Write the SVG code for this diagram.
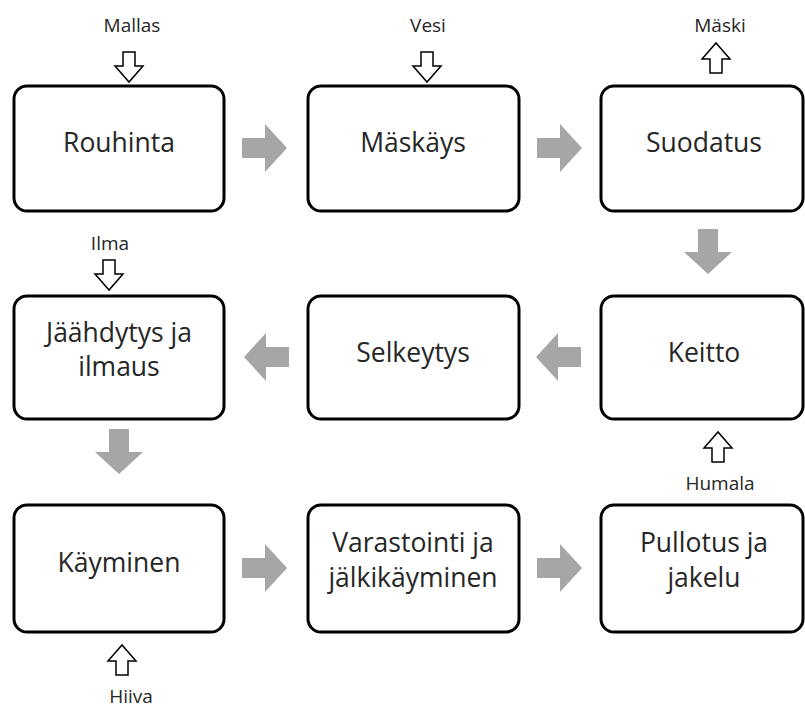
<svg xmlns="http://www.w3.org/2000/svg" width="805" height="708" viewBox="0 0 805 708">
  <style>
    .box { fill: #ffffff; stroke: #000000; stroke-width: 3; }
    .lbl { font-family: "Open Sans", "Noto Sans", "DejaVu Sans", sans-serif; font-size: 26.5px; fill: #262626; text-anchor: middle; }
    .io { font-family: "Open Sans", "Noto Sans", "DejaVu Sans", sans-serif; font-size: 19px; fill: #262626; text-anchor: middle; }
    .flow { fill: #a6a6a6; }
    .inout { fill: #ffffff; stroke: #000000; stroke-width: 1.5; stroke-linejoin: miter; }
  </style>
  <defs>
    <!-- gray process arrow pointing right, origin at its centre -->
    <path id="flowR" class="flow" d="M -22 -10 L 1 -10 L 1 -24 L 23 0 L 1 24 L 1 10 L -22 10 Z"/>
    <!-- hollow input arrow pointing down, origin at its top centre -->
    <path id="ioDown" class="inout" d="M -6 0 L 6 0 L 6 14 L 14 14 L 0 30 L -14 14 L -6 14 Z"/>
  </defs>

  <rect width="805" height="708" fill="#ffffff"/>

  <g id="connectors">
    <use href="#flowR" transform="translate(264,148)"/>
    <use href="#flowR" transform="translate(559,148)"/>
    <use href="#flowR" transform="translate(708,251) rotate(90)"/>
    <use href="#flowR" transform="translate(559,357) rotate(180)"/>
    <use href="#flowR" transform="translate(267,357) rotate(180)"/>
    <use href="#flowR" transform="translate(119,451) rotate(90)"/>
    <use href="#flowR" transform="translate(264,568)"/>
    <use href="#flowR" transform="translate(559,568)"/>

    <!-- inputs and outputs -->
    <use href="#ioDown" transform="translate(129,52)"/>
    <use href="#ioDown" transform="translate(427,52)"/>
    <use href="#ioDown" transform="translate(716,73) rotate(180)"/>
    <use href="#ioDown" transform="translate(109,260)"/>
    <use href="#ioDown" transform="translate(718,462) rotate(180)"/>
    <use href="#ioDown" transform="translate(122,675) rotate(180)"/>
  </g>

  <g id="io-labels">
    <text class="io" x="132" y="32">Mallas</text>
    <text class="io" x="428" y="32">Vesi</text>
    <text class="io" x="720" y="32">Mäski</text>
    <text class="io" x="110" y="250">Ilma</text>
    <text class="io" x="720" y="490">Humala</text>
    <text class="io" x="131" y="703">Hiiva</text>
  </g>

  <g id="rouhinta">
    <rect class="box" x="14" y="86" width="210" height="125" rx="13"/>
    <text class="lbl" x="119" y="152">Rouhinta</text>
  </g>
  <g id="maskays">
    <rect class="box" x="308" y="86" width="211" height="125" rx="13"/>
    <text class="lbl" x="413" y="152">Mäskäys</text>
  </g>
  <g id="suodatus">
    <rect class="box" x="601" y="86" width="202" height="125" rx="13"/>
    <text class="lbl" x="704" y="152">Suodatus</text>
  </g>
  <g id="keitto">
    <rect class="box" x="601" y="296" width="202" height="123" rx="13"/>
    <text class="lbl" x="704" y="362">Keitto</text>
  </g>
  <g id="selkeytys">
    <rect class="box" x="308" y="296" width="211" height="123" rx="13"/>
    <text class="lbl" x="413" y="362">Selkeytys</text>
  </g>
  <g id="jaahdytys">
    <rect class="box" x="14" y="296" width="210" height="123" rx="13"/>
    <text class="lbl" x="119" y="342">Jäähdytys ja</text>
    <text class="lbl" x="119" y="376">ilmaus</text>
  </g>
  <g id="kayminen">
    <rect class="box" x="14" y="505" width="210" height="127" rx="13"/>
    <text class="lbl" x="119" y="572">Käyminen</text>
  </g>
  <g id="varastointi">
    <rect class="box" x="308" y="505" width="211" height="127" rx="13"/>
    <text class="lbl" x="413" y="552">Varastointi ja</text>
    <text class="lbl" x="413" y="587">jälkikäyminen</text>
  </g>
  <g id="pullotus">
    <rect class="box" x="601" y="505" width="202" height="127" rx="13"/>
    <text class="lbl" x="704" y="552">Pullotus ja</text>
    <text class="lbl" x="704" y="587">jakelu</text>
  </g>
</svg>
